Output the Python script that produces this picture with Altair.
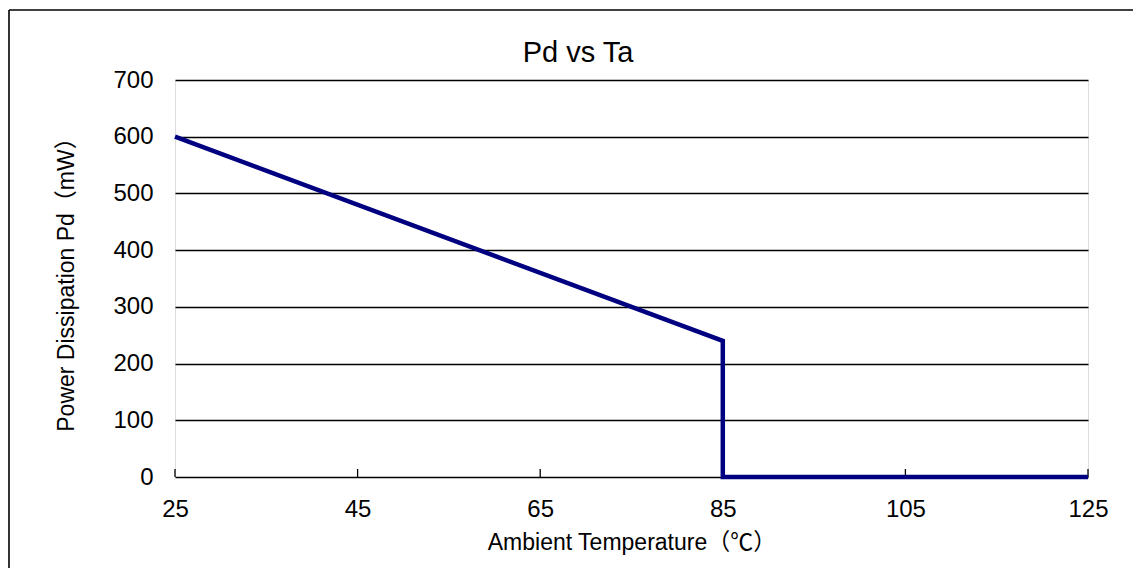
import altair as alt
import pandas as pd

# Data
ta = [25, 85, 85, 125]
pd_mw = [600, 240, 0, 0]
x_ticks = [25, 45, 65, 85, 105, 125]
y_ticks = [0, 100, 200, 300, 400, 500, 600, 700]
chart_title = ["Pd vs Ta"]

FONT = "Liberation Sans, Arial, 'Noto Sans CJK SC', sans-serif"
W, H = 913, 397

line_df = pd.DataFrame({"Ta": ta, "Pd": pd_mw, "order": list(range(len(ta)))})
tick_df = pd.DataFrame({"Ta": x_ticks})
title_df = pd.DataFrame({"t": chart_title})
one = pd.DataFrame({"a": [0]})

x_scale = alt.Scale(domain=[25, 125], nice=False, zero=False)
y_scale = alt.Scale(domain=[0, 700], nice=False)

x_axis = alt.Axis(
    values=x_ticks, grid=False, ticks=False, domain=False,
    labelFont=FONT, labelFontSize=24, labelColor="black", labelPadding=20,
    title="Ambient Temperature（℃）", titleFont=FONT, titleFontSize=23,
    titleFontWeight="normal", titleColor="black", titlePadding=10,
    labelFlush=False,
)
y_axis = alt.Axis(
    values=y_ticks, grid=True, gridColor="black", gridWidth=1.3, gridOpacity=1,
    ticks=False, domain=False,
    labelFont=FONT, labelFontSize=24, labelColor="black", labelPadding=22,
    title="Power Dissipation Pd（mW）", titleFont=FONT, titleFontSize=23,
    titleFontWeight="normal", titleColor="black", titlePadding=34,
    labelFlush=False,
)

line = alt.Chart(line_df).mark_line(
    color="#000080", strokeWidth=4.5, strokeJoin="miter"
).encode(
    x=alt.X("Ta:Q", scale=x_scale, axis=x_axis),
    y=alt.Y("Pd:Q", scale=y_scale, axis=y_axis),
    order="order:Q",
)

ticks = alt.Chart(tick_df).mark_rule(color="black", strokeWidth=1.3).encode(
    x=alt.X("Ta:Q", scale=x_scale),
    y=alt.value(H - 8),
    y2=alt.value(H),
)

border_top = alt.Chart(one).mark_rule(color="black", strokeWidth=1.6).encode(
    x=alt.value(-166), x2=alt.value(W + 45), y=alt.value(-70)
)
border_left = alt.Chart(one).mark_rule(color="black", strokeWidth=1.6).encode(
    x=alt.value(-166), y=alt.value(-70), y2=alt.value(H + 91)
)

title = alt.Chart(title_df).mark_text(
    font=FONT, fontSize=29, color="black", align="center", baseline="alphabetic"
).encode(
    text="t:N",
    x=alt.value(403),
    y=alt.value(-18),
)

chart = alt.layer(border_top, border_left, ticks, line, title).properties(
    width=W,
    height=H,
    autosize="none",
    padding={"left": 167, "top": 72, "right": 45, "bottom": 91},
).configure_view(
    stroke="black", strokeWidth=1.5
).configure(background="white")

chart.save("out.html", embed_options={"renderer": "svg", "actions": False})
